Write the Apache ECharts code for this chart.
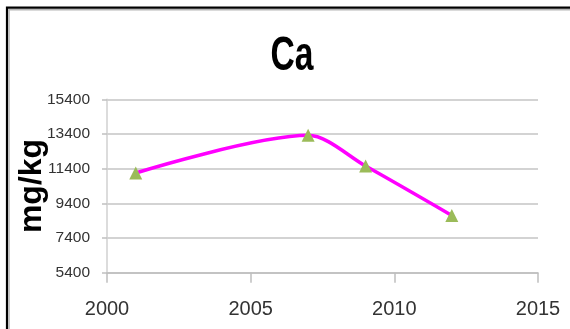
<!DOCTYPE html>
<html>
<head>
<meta charset="utf-8">
<script src="https://cdn.jsdelivr.net/npm/echarts@6/dist/echarts.min.js"></script>
<style>
  html, body { margin: 0; padding: 0; background: #fff; }
  #chart { width: 570px; height: 329px; }
</style>
</head>
<body>
<div id="chart"></div>
<script>
// data
var years = [2001, 2007, 2009, 2012];
var caValues = [11150, 13320, 11550, 8700];
var yTicks = [5400, 7400, 9400, 11400, 13400, 15400];
var xTicks = [2000, 2005, 2010, 2015];

var chart = echarts.init(document.getElementById('chart'));

var points = [];
for (let i = 0; i < years.length; i++) {
    points.push([years[i], caValues[i]]);
}

var option = {
    backgroundColor: '#fff',
    animation: false,
    graphic: [
        {
            type: 'rect',
            shape: { x: 7, y: 7.7, width: 620, height: 400 },
            style: { fill: null, stroke: '#000', lineWidth: 2.2 }
        },
        {
            type: 'rect',
            shape: { x: 9, y: 9.7, width: 620, height: 400 },
            style: { fill: null, stroke: '#b5b5b5', lineWidth: 1.5 }
        },
        {
            // title, squeezed a bit like the original
            type: 'text',
            x: 292,
            y: 57,
            scaleX: 0.7,
            style: {
                text: 'Ca',
                fontFamily: 'Liberation Sans',
                fontWeight: 'bold',
                fontSize: 48,
                fill: '#000',
                align: 'center',
                verticalAlign: 'middle'
            }
        }
    ],
    grid: {
        left: 107,
        right: 32,
        top: 99.3,
        bottom: 56.3,
        outerBoundsMode: 'none'
    },
    xAxis: {
        type: 'value',
        min: 2000,
        max: 2015,
        interval: 5,
        axisLine: { lineStyle: { color: '#bfbfbf', width: 1.5 } },
        axisTick: { inside: false, length: 10, lineStyle: { color: '#bfbfbf', width: 1.5 } },
        splitLine: { show: false },
        axisLabel: {
            margin: 27,
            formatter: function (v) { return String(v); },
            fontFamily: 'Liberation Sans',
            fontSize: 20,
            color: '#333'
        }
    },
    yAxis: {
        type: 'value',
        min: 5400,
        max: 15400,
        name: 'mg/kg',
        nameLocation: 'middle',
        nameRotate: 90,
        nameGap: 59,
        nameMoveOverlap: false,
        nameTextStyle: {
            fontFamily: 'Liberation Sans',
            fontWeight: 'bold',
            fontSize: 32,
            color: '#000'
        },
        axisLine: { show: true, lineStyle: { color: '#d0d0d0', width: 1.5 } },
        axisTick: {
            show: true,
            length: 5,
            customValues: yTicks,
            lineStyle: { color: '#c0c0c0', width: 1.5 }
        },
        splitLine: { show: true, lineStyle: { color: '#c4c4c4', width: 1.5 } },
        axisLabel: {
            customValues: yTicks,
            margin: 17,
            formatter: function (v) { return String(v); },
            fontFamily: 'Liberation Sans',
            fontSize: 15.5,
            color: '#333'
        }
    },
    series: [
        {
            name: 'Ca',
            type: 'line',
            data: points,
            smooth: 0.3,
            symbol: 'triangle',
            symbolSize: 13,
            lineStyle: { color: '#ff00ff', width: 3.5 },
            itemStyle: { color: '#9bbb59' },
            z: 3
        }
    ]
};

chart.setOption(option);
</script>
</body>
</html>
